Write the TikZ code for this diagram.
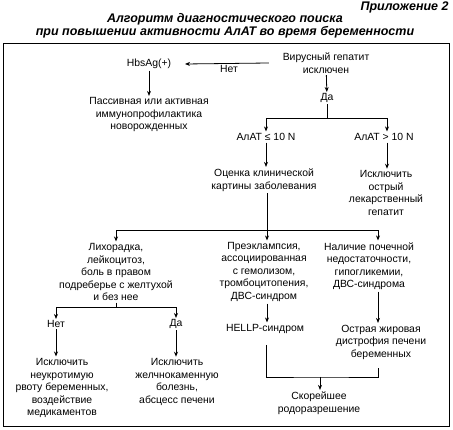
\documentclass[tikz,border=0pt]{standalone}
\usepackage{fontspec}
\setmainfont{Liberation Sans}
\usetikzlibrary{arrows.meta}
\begin{document}
\begin{tikzpicture}
[x=1pt, y=-1pt, line width=0.8pt,
box/.style={align=center, inner sep=1.5pt, font=\fontsize{10.4}{12.5}\selectfont},
lbl/.style={inner sep=1pt, font=\fontsize{10.4}{12.5}\selectfont},
ttl/.style={inner sep=0pt, font=\fontsize{12.5}{13}\selectfont\bfseries\itshape},
arr/.style={-{Stealth[length=5pt, width=4pt]}}
]
\useasboundingbox (0,0) rectangle (453,430);

% title
\node[ttl, anchor=east] (app) at (449,7) {Приложение 2};
\node[ttl] (title1) at (225,19) {Алгоритм диагностического поиска};
\node[ttl] (title2) at (225,32) {при повышении активности АлАТ во время беременности};
\draw[line width=1pt] (3,44) rectangle (449,427);

% top part
\node[box] (virus) at (326,63) {Вирусный гепатит\\исключен};
\node[box] (hbs) at (149,64) {HbsAg(+)};
\node[box] (passive) at (149,115) {Пассивная или активная\\иммунопрофилактика\\новорожденных};
\node[lbl] (yes1) at (327,98) {Да};
\node[box] (alt1) at (266,137) {АлАТ ≤ 10 N};
\node[box] (alt2) at (384,137) {АлАТ > 10 N};
\node[box] (assess) at (264,180) {Оценка клинической\\картины заболевания};
\node[box] (drug) at (386,193) {Исключить\\острый\\лекарственный\\гепатит};

\draw[arr] ([xshift=-12pt]virus.west) -- node[lbl, below=0.5pt, xshift=2pt] (no1) {Нет} ([xshift=12pt]hbs.east);
\draw[arr] (hbs) -- (passive);
\draw[arr] (virus) -- (yes1);
\coordinate (split1) at (327,118);
\draw (yes1) -- (split1);
\draw[arr] (split1) -| (alt1.north);
\draw[arr] (split1) -| ([xshift=3pt]alt2.north);
\draw[arr] (alt1) -- (alt1 |- assess.north);
\draw[arr] ([xshift=3pt]alt2.south) -- ([xshift=3pt]alt2.south |- drug.north);

% middle row
\node[box] (fever) at (116,272) {Лихорадка,\\лейкоцитоз,\\боль в правом\\подреберье с желтухой\\и без нее};
\node[box] (preecl) at (264,272) {Преэклампсия,\\ассоциированная\\с гемолизом,\\тромбоцитопения,\\ДВС-синдром};
\node[box] (renal) at (369,266) {Наличие почечной\\недостаточности,\\гипогликемии,\\ДВС-синдрома};

\coordinate (split2) at (267,230);
\draw (assess.south -| split2) -- (split2);
\draw[arr] (split2) -| (fever.north);
\draw[arr] (split2) -- (split2 |- preecl.north);
\draw[arr] (split2) -| (renal.north -| 378,0);

% bottom left
\node[lbl] (no2) at (56,324) {Нет};
\node[lbl] (yes2) at (176,324) {Да};
\node[box] (excl1) at (62,388) {Исключить\\неукротимую\\рвоту беременных,\\воздействие\\медикаментов};
\node[box] (excl2) at (177,382) {Исключить\\желчнокаменную\\болезнь,\\абсцесс печени};

\coordinate (split3) at (116,307);
\draw (fever) -- (split3);
\draw[arr] (split3) -| (no2);
\draw[arr] (split3) -| (yes2);
\foreach \a/\b in {no2/excl1, yes2/excl2} {
  \draw[arr] (\a) -- (\a |- \b.north);
}

% bottom right
\node[box] (hellp) at (265,329) {HELLP-синдром};
\node[box] (fatty) at (381,342) {Острая жировая\\дистрофия печени\\беременных};
\node[box] (delivery) at (319,403) {Скорейшее\\родоразрешение};

\draw[arr] (preecl.south -| split2) -- (hellp.north -| split2);
\draw[arr] (renal.south -| 378,0) -- (fatty.north -| 378,0);
\coordinate (merge) at (320,377);
\draw (266,345) |- (merge) -| (378,368);
\draw[arr] (merge) -- (merge |- delivery.north);

\end{tikzpicture}
\end{document}
